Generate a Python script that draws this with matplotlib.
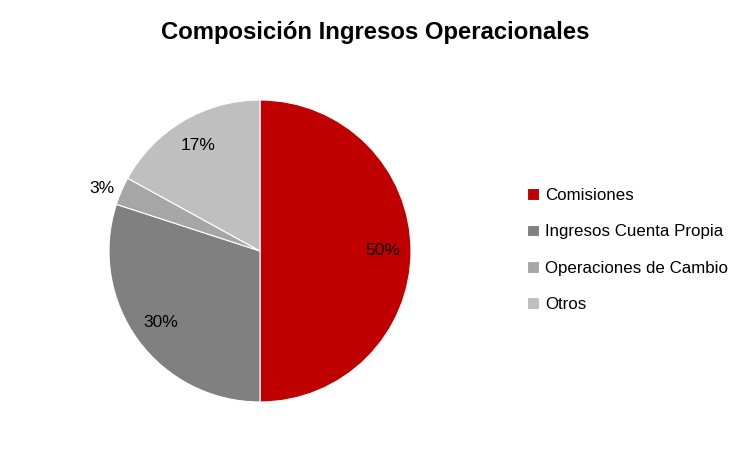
import matplotlib.pyplot as plt

plt.rcParams['font.family'] = ['Liberation Sans', 'DejaVu Sans']

labels = ["Comisiones", "Ingresos Cuenta Propia", "Operaciones de Cambio", "Otros"]
values = [50, 30, 3, 17]
colors = ["#C00000", "#808080", "#A6A6A6", "#BFBFBF"]

W, H = 750, 449
fig = plt.figure(figsize=(W / 100, H / 100), dpi=100)

# Pie axes placed in pixel coordinates
cx, cy, r = 260, 251, 151
ax = fig.add_axes([(cx - r) / W, (H - cy - r) / H, 2 * r / W, 2 * r / H])

wedges, texts, autotexts = ax.pie(
    values, colors=colors, startangle=90, counterclock=False,
    autopct=lambda p: "%.0f%%" % p, pctdistance=0.81,
    wedgeprops=dict(edgecolor="white", linewidth=0.8),
    textprops=dict(fontsize=12.5, color="black"))
ax.set_xlim(-1, 1)
ax.set_ylim(-1, 1)
ax.set_aspect('equal')

# small slice label sits outside the pie
autotexts[2].set_position((-1.045, 0.415))

fig.text(375 / W, 1 - 33 / H, "Composición Ingresos Operacionales",
         ha="center", va="center", fontsize=17.2, fontweight="bold")

leg = fig.legend(wedges, labels, loc="center left",
                 bbox_to_anchor=(512 / W, 1 - 250 / H), frameon=False,
                 fontsize=12.2, handlelength=0.7, handleheight=0.7,
                 handletextpad=0.35, labelspacing=1.25)

plt.savefig("out.png", dpi=100)
